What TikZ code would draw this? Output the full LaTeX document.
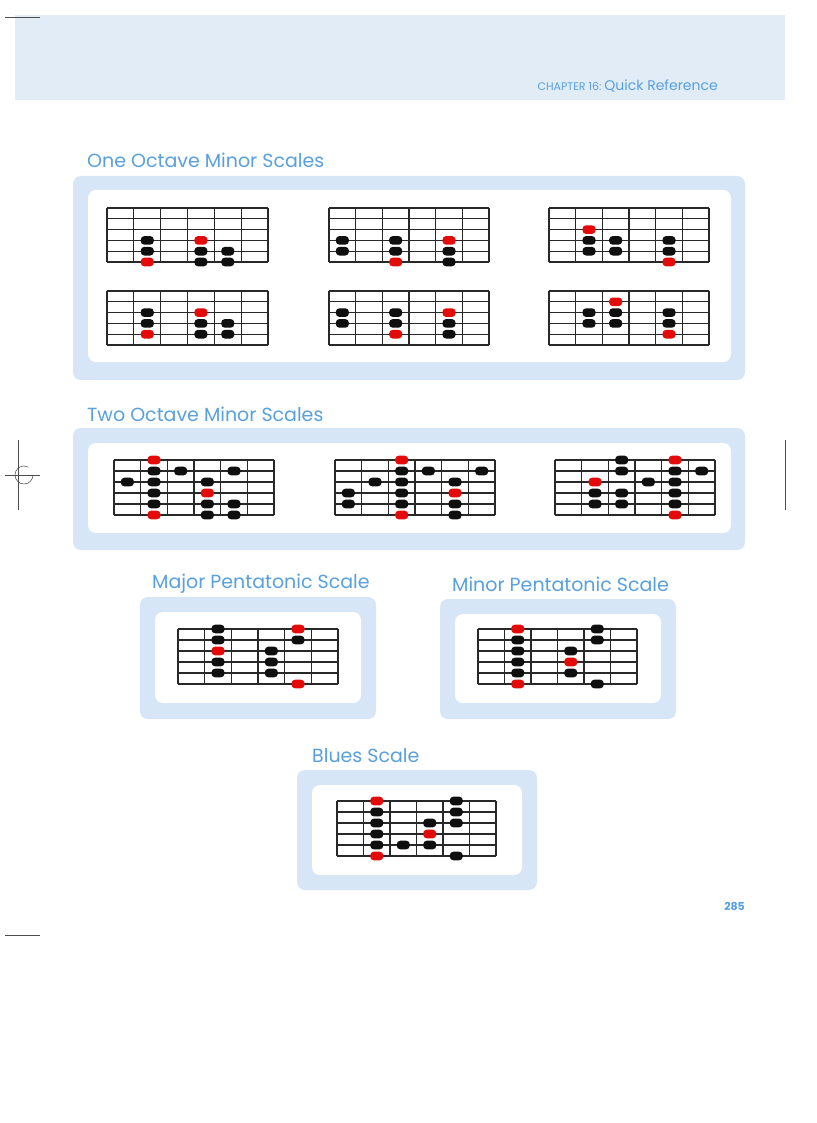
\documentclass[tikz,border=0pt]{standalone}
\usepackage{fontspec}
\setmainfont{Poppins}
\definecolor{panel}{RGB}{214,230,246}
\definecolor{head}{RGB}{226,236,246}
\definecolor{ttl}{RGB}{88,160,222}
\definecolor{dotred}{RGB}{228,10,10}
\definecolor{dotblk}{RGB}{15,15,15}
\definecolor{grid}{RGB}{40,40,40}
\tikzset{gridline/.style={draw=grid,line width=1.1pt},
 panelbox/.style={fill=panel,rounded corners=8pt},
 innerbox/.style={fill=white,rounded corners=8pt},
 title/.style={anchor=base west,text=ttl,font=\fontsize{19}{22}\selectfont,inner sep=0pt},
 crop/.style={draw=black!70,line width=0.5pt}}
\newcommand\fretboard[5]{%
 \begin{scope}[shift={(#1,#2)}]
 \foreach \i in {0,...,5} \draw[gridline] (0,{\i*#4/5}) -- (#3,{\i*#4/5});
 \foreach \j in {0,...,6} \draw[gridline] ({\j*#3/6},0) -- ({\j*#3/6},#4);
 \foreach \c/\r/\k in {#5} \fill[\k,rounded corners=3.5pt] ({(\c+0.5)*#3/6-6.5},{\r*#4/5-4.3}) rectangle ++(13,8.6);
 \end{scope}}
\begin{document}
\begin{tikzpicture}[x=1pt,y=-1pt]
\useasboundingbox (0,0) rectangle (816,1123);
\fill[white] (0,0) rectangle (816,1123);
% header
\fill[head] (15,15) rectangle (785,100);
\node[anchor=base east,text=ttl,font=\fontsize{14}{16}\selectfont,inner sep=0pt] (chap) at (718,91) {\fontsize{11}{13}\selectfont CHAPTER 16:\ \fontsize{14}{16}\selectfont Quick Reference};
% crop marks
\draw[crop] (5,17) -- (40,17);
\draw[crop] (5,935) -- (40,935);
\draw[crop] (18,440) -- (18,510);
\draw[crop] (5,475) -- (40,475);
\draw[crop] (33,475) arc (0:300:9);
\draw[crop] (785,440) -- (785,510);
% One octave
\node[title] (t1) at (87,168) {One Octave Minor Scales};
\fill[panelbox] (73,176) rectangle (745,380);
\fill[innerbox] (88,190) rectangle (731,362);
\fretboard{107}{208}{161}{54}{1/3/dotblk,1/4/dotblk,1/5/dotred,3/3/dotred,3/4/dotblk,3/5/dotblk,4/4/dotblk,4/5/dotblk}
\fretboard{329}{208}{160}{54}{0/3/dotblk,0/4/dotblk,2/3/dotblk,2/4/dotblk,2/5/dotred,4/3/dotred,4/4/dotblk,4/5/dotblk}
\fretboard{549}{208}{160}{54}{1/2/dotred,1/3/dotblk,1/4/dotblk,2/3/dotblk,2/4/dotblk,4/3/dotblk,4/4/dotblk,4/5/dotred}
\fretboard{107}{291}{161}{54}{1/2/dotblk,1/3/dotblk,1/4/dotred,3/2/dotred,3/3/dotblk,3/4/dotblk,4/3/dotblk,4/4/dotblk}
\fretboard{329}{291}{160}{54}{0/2/dotblk,0/3/dotblk,2/2/dotblk,2/3/dotblk,2/4/dotred,4/2/dotred,4/3/dotblk,4/4/dotblk}
\fretboard{549}{291}{160}{54}{1/2/dotblk,1/3/dotblk,2/1/dotred,2/2/dotblk,2/3/dotblk,4/2/dotblk,4/3/dotblk,4/4/dotred}
% Two octave
\node[title] (t2) at (87,421) {Two Octave Minor Scales};
\fill[panelbox] (73,428) rectangle (745,550);
\fill[innerbox] (88,443) rectangle (731,533);
\fretboard{114}{460}{160}{55}{0/2/dotblk,1/0/dotred,1/1/dotblk,1/2/dotblk,1/3/dotblk,1/4/dotblk,1/5/dotred,2/1/dotblk,3/2/dotblk,3/3/dotred,3/4/dotblk,3/5/dotblk,4/1/dotblk,4/4/dotblk,4/5/dotblk}
\fretboard{335}{460}{160}{55}{0/3/dotblk,0/4/dotblk,1/2/dotblk,2/0/dotred,2/1/dotblk,2/2/dotblk,2/3/dotblk,2/4/dotblk,2/5/dotred,3/1/dotblk,4/2/dotblk,4/3/dotred,4/4/dotblk,4/5/dotblk,5/1/dotblk}
\fretboard{555}{460}{160}{55}{1/2/dotred,1/3/dotblk,1/4/dotblk,2/0/dotblk,2/1/dotblk,2/3/dotblk,2/4/dotblk,3/2/dotblk,4/0/dotred,4/1/dotblk,4/2/dotblk,4/3/dotblk,4/4/dotblk,4/5/dotred,5/1/dotblk}
% Major pentatonic
\node[title] (t3) at (152,588) {Major Pentatonic Scale};
\fill[panelbox] (140,597) rectangle (376,719);
\fill[innerbox] (155,612) rectangle (361,703);
\fretboard{178}{629}{160}{55}{1/0/dotblk,1/1/dotblk,1/2/dotred,1/3/dotblk,1/4/dotblk,3/2/dotblk,3/3/dotblk,3/4/dotblk,4/0/dotred,4/1/dotblk,4/5/dotred}
% Minor pentatonic
\node[title] (t4) at (452,591) {Minor Pentatonic Scale};
\fill[panelbox] (440,599) rectangle (676,719);
\fill[innerbox] (455,614) rectangle (661,703);
\fretboard{478}{629}{159}{55}{1/0/dotred,1/1/dotblk,1/2/dotblk,1/3/dotblk,1/4/dotblk,1/5/dotred,3/2/dotblk,3/3/dotred,3/4/dotblk,4/0/dotblk,4/1/dotblk,4/5/dotblk}
% Blues
\node[title] (t5) at (312,762) {Blues Scale};
\fill[panelbox] (297,770) rectangle (537,890);
\fill[innerbox] (312,785) rectangle (522,875);
\fretboard{337}{801}{159}{55}{1/0/dotred,1/1/dotblk,1/2/dotblk,1/3/dotblk,1/4/dotblk,1/5/dotred,2/4/dotblk,3/2/dotblk,3/3/dotred,3/4/dotblk,4/0/dotblk,4/1/dotblk,4/2/dotblk,4/5/dotblk}
% page number
\node[anchor=base east,text=ttl,font=\bfseries\fontsize{11}{13}\selectfont,inner sep=0pt] (pg) at (745,910) {285};
\end{tikzpicture}
\end{document}
